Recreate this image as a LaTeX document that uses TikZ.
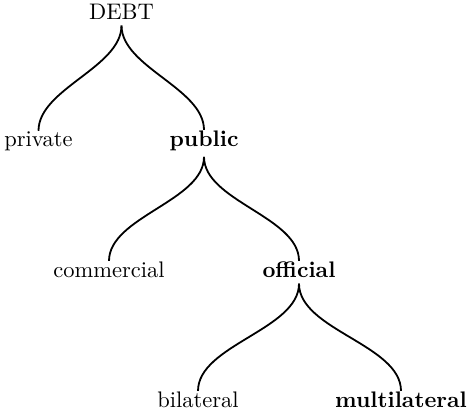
\documentclass[tikz,border=0pt]{standalone}
\begin{document}
\begin{tikzpicture}[x=0.4444pt, y=-0.4444pt,
		leaf/.style={inner sep=0pt, anchor=base},
		branch/.style={thick, out=-90, in=90, looseness=0.8}]
		% Frame
		\useasboundingbox (0,0) rectangle (468,413);
		
		% Levels
		\node[leaf] (debt) at (121.5,19) {DEBT};
		\node[leaf] (private) at (38.5,146) {private};
		\node[leaf, font=\bfseries] (public) at (204,146) {public};
		\node[leaf] (commercial) at (109,277) {commercial};
		\node[leaf, font=\bfseries] (official) at (299,277) {official};
		\node[leaf] (bilateral) at (198,407) {bilateral};
		\node[leaf, font=\bfseries] (multilateral) at (401,407) {multilateral};
		
		% Branches
		\foreach \p/\c in {debt/private, debt/public, public/commercial, public/official, official/bilateral, official/multilateral}
		\draw[branch] ([yshift=-2.7pt]\p.south) to (\c.north);
\end{tikzpicture}
\end{document}
